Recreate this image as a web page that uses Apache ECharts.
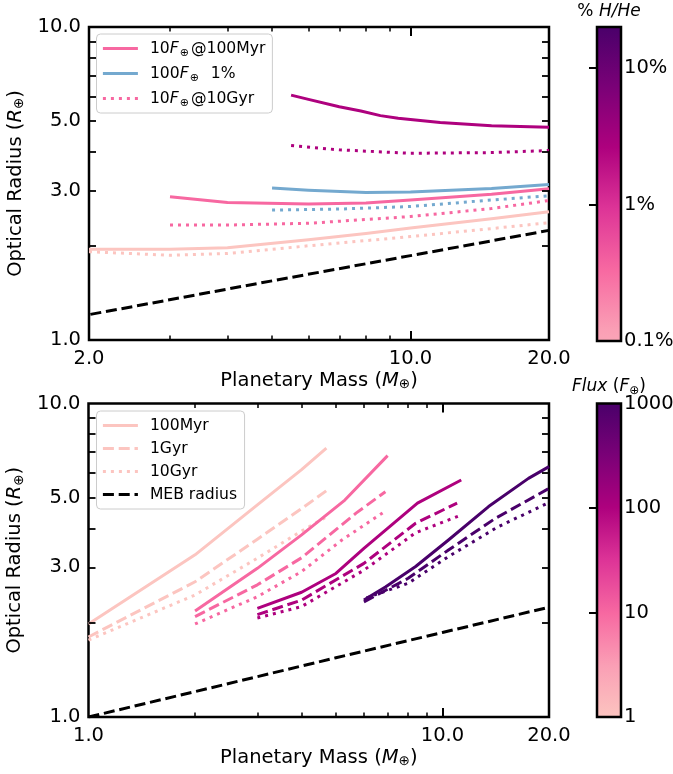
<!DOCTYPE html>
<html>
<head>
<meta charset="utf-8">
<script src="https://cdn.jsdelivr.net/npm/echarts@6/dist/echarts.min.js"></script>
<style>
  html, body { margin: 0; padding: 0; background: #fff; }
  #chart { width: 673px; height: 774px; }
</style>
</head>
<body>
<div id="chart"></div>
<script>
// ---------- upper panel: radius vs mass, by H/He fraction (mass in M_earth, radius in R_earth) ----------
const hhe01At100Myr = [[2, 1.95], [3, 1.95], [4, 1.97], [6, 2.09], [8, 2.19], [10, 2.28], [15, 2.44], [20, 2.57]];
const hhe01At10Gyr  = [[2, 1.915], [3, 1.865], [4, 1.89], [6, 2.0], [10, 2.14], [15, 2.27], [20, 2.37]];
const hhe1At100Myr  = [[3, 2.87], [4, 2.75], [6, 2.72], [8, 2.74], [10, 2.80], [15, 2.92], [20, 3.04]];
const hhe1At10Gyr   = [[3, 2.33], [4, 2.33], [6, 2.36], [10, 2.48], [15, 2.63], [20, 2.79]];
const flux100At100Myr = [[5, 3.06], [6, 3.01], [8, 2.96], [10, 2.97], [15, 3.05], [20, 3.14]];
const flux100At10Gyr  = [[5, 2.60], [7, 2.62], [10, 2.67], [15, 2.80], [20, 2.89]];
const hhe10At100Myr = [[5.5, 6.06], [6, 5.87], [7, 5.56], [7.8, 5.39], [8.6, 5.21], [9.4, 5.11], [10.5, 5.03],
                       [11.6, 4.95], [15, 4.84], [20, 4.78]];
const hhe10At10Gyr  = [[5.5, 4.18], [7, 4.05], [10, 3.95], [15, 3.97], [20, 4.03]];

// mass-radius relation of the bare core
const mebRadius = [[1, 1.0], [2, 1.205], [5, 1.545], [10, 1.86], [20, 2.24]];

// ---------- lower panel: radius vs mass, by incident flux ----------
const flux1At100Myr = [[1, 1.98], [2, 3.29], [3, 4.75], [4, 6.15], [4.7, 7.2]];
const flux1At1Gyr   = [[1, 1.80], [2, 2.70], [3, 3.69], [4, 4.62], [4.7, 5.27]];
const flux1At10Gyr  = [[1, 1.76], [2, 2.45], [3, 3.21], [4, 3.92], [4.7, 4.35]];

const flux10At100Myr = [[2, 2.18], [3, 2.98], [4, 3.81], [5.3, 4.92], [7, 6.82]];
const flux10At1Gyr   = [[2, 2.09], [3, 2.64], [4, 3.22], [5.7, 4.47], [6.9, 5.23]];
const flux10At10Gyr  = [[2, 1.98], [3, 2.42], [4, 2.91], [5.2, 3.67], [6.9, 4.54]];

const flux100At100MyrB = [[3, 2.22], [4, 2.50], [5, 2.87], [6, 3.45], [8.5, 4.81], [11.3, 5.70]];
const flux100At1Gyr    = [[3, 2.12], [4, 2.36], [6, 3.09], [8.4, 4.15], [11, 4.81]];
const flux100At10GyrB  = [[3, 2.07], [4, 2.25], [6, 2.94], [8.4, 3.87], [11.3, 4.41]];

const flux1000At100Myr = [[6, 2.36], [6.9, 2.60], [8.4, 3.02], [10.4, 3.67], [13.5, 4.69], [17.5, 5.77], [20, 6.29]];
const flux1000At1Gyr   = [[6, 2.33], [8, 2.77], [10.4, 3.41], [14.1, 4.30], [20, 5.36]];
const flux1000At10Gyr  = [[6.1, 2.40], [8, 2.67], [10.4, 3.25], [14.4, 4.05], [20, 4.83]];

// ---------- axes, ticks and colour bars ----------
const topMassRange = [2, 20];
const botMassRange = [1, 20];
const radiusRange = [1, 10];
const topMassLabels = [2, 10, 20];
const botMassLabels = [1, 10, 20];
const massMajorTicks = [10];
const topMassMinorTicks = [3, 4, 5, 6, 7, 8, 9];
const botMassMinorTicks = [2, 3, 4, 5, 6, 7, 8, 9];
const radiusTicks = [2, 3, 4, 5, 6, 7, 8, 9];
const radiusLabels = [1, 3, 5, 10];

const hheRange = [0.1, 20];       // % H/He
const hheTicks = [1, 10];
const hheLabels = [0.1, 1, 10];
const fluxRange = [1, 1000];      // F_earth
const fluxTicks = [10, 100];
const fluxLabels = [1, 10, 100, 1000];

const topLegendNames = ['10F⊕@100Myr', '100F⊕ 1%', '10F⊕@10Gyr'];
const topLegendText  = ['{a|10}{i|F}{s|⊕}@100Myr', '{a|100}{i|F}{s|⊕}  1%', '{a|10}{i|F}{s|⊕}@10Gyr'];
const botLegendNames = ['100Myr', '1Gyr', '10Gyr', 'MEB radius'];

// ---------- styling ----------
const FONT = 'DejaVu Sans';
const COL = {
  light: '#fcc5c0', pink: '#f768a1', magenta: '#ae017e', purple: '#49006a',
  blue: '#74a9cf', black: '#000000'
};
const DASHED = [11, 4.8];
const DOTTED = [3, 5];
// RdPu colour ramps for the two colour bars (bottom -> top)
const RAMP_HHE = [
  { offset: 0, color: '#faa5b7' }, { offset: 0.0385, color: '#fa9fb5' }, { offset: 0.2308, color: '#f768a1' },
  { offset: 0.4231, color: '#dd3497' }, { offset: 0.6154, color: '#ae017e' }, { offset: 0.8077, color: '#7a0177' },
  { offset: 1, color: '#49006a' }
];
const RAMP_FLUX = ['#fcc5c0', '#fa9fb5', '#f768a1', '#dd3497', '#ae017e', '#7a0177', '#49006a']
  .map((c, k, a) => ({ offset: k / (a.length - 1), color: c }));

const richSub = {
  i: { fontStyle: 'italic', fontFamily: FONT, fontSize: 19.5, color: '#000' },
  s: { fontFamily: FONT, fontSize: 13.5, lineHeight: 14, verticalAlign: 'bottom', color: '#000' }
};

const GRID_TOP = { left: 89, top: 27, width: 460, height: 313 };
const GRID_BOT = { left: 88.5, top: 403.5, width: 460.5, height: 313.5 };

function gridOf(g) {
  return Object.assign({ show: true, borderColor: '#000', borderWidth: 2.5, backgroundColor: 'transparent',
    containLabel: false, outerBoundsMode: 'none' }, g);
}

const tickLabel = { fontFamily: FONT, fontSize: 19.5, color: '#000' };

function massAxes(gridIndex, range, labels, minor) {
  const base = { type: 'log', logBase: 10, gridIndex, min: range[0], max: range[1],
    axisLine: { show: false }, splitLine: { show: false }, minorTick: { show: false }, z: 5 };
  return [
    Object.assign({}, base, {
      position: 'bottom',
      axisTick: { show: true, inside: true, length: 9, customValues: massMajorTicks, lineStyle: { color: '#000', width: 2 } },
      axisLabel: Object.assign({ show: true, margin: 9, customValues: labels, formatter: v => Number(v).toFixed(1) }, tickLabel),
      name: 'Planetary Mass ({i|M}{s|⊕})', nameLocation: 'middle', nameGap: 29,
      nameTextStyle: { fontFamily: FONT, fontSize: 19.5, color: '#000', lineHeight: 22, rich: richSub }
    }),
    Object.assign({}, base, {
      position: 'bottom',
      axisTick: { show: true, inside: true, length: 4.5, customValues: minor, lineStyle: { color: '#000', width: 1.5 } },
      axisLabel: { show: false }
    }),
    Object.assign({}, base, {
      position: 'top',
      axisTick: { show: true, inside: true, length: 9, customValues: massMajorTicks, lineStyle: { color: '#000', width: 2 } },
      axisLabel: { show: false }
    }),
    Object.assign({}, base, {
      position: 'top',
      axisTick: { show: true, inside: true, length: 4.5, customValues: minor, lineStyle: { color: '#000', width: 1.5 } },
      axisLabel: { show: false }
    })
  ];
}

function radiusAxes(gridIndex) {
  const base = { type: 'log', logBase: 10, gridIndex, min: radiusRange[0], max: radiusRange[1],
    axisLine: { show: false }, splitLine: { show: false }, minorTick: { show: false }, z: 5,
    axisTick: { show: true, inside: true, length: 7, customValues: radiusTicks, lineStyle: { color: '#000', width: 1.8 } } };
  return [
    Object.assign({}, base, {
      position: 'left',
      axisLabel: Object.assign({ show: true, margin: 8, customValues: radiusLabels, formatter: v => Number(v).toFixed(1) }, tickLabel),
      name: 'Optical Radius ({i|R}{s|⊕})', nameLocation: 'middle', nameGap: 60,
      nameTextStyle: { fontFamily: FONT, fontSize: 19.5, color: '#000', lineHeight: 22, rich: richSub }
    }),
    Object.assign({}, base, { position: 'right', axisLabel: { show: false } })
  ];
}

function colorbarAxes(gridIndex, range, ticks, labels, fmt) {
  return {
    x: { type: 'value', gridIndex, min: 0, max: 1, show: false },
    y: { type: 'log', logBase: 10, gridIndex, min: range[0], max: range[1], position: 'right', z: 10,
      axisLine: { show: false }, splitLine: { show: false }, minorTick: { show: false },
      axisTick: { show: true, inside: true, length: 8, customValues: ticks, lineStyle: { color: '#000', width: 2 } },
      axisLabel: Object.assign({ show: true, margin: 3, customValues: labels, formatter: fmt }, tickLabel) }
  };
}

function line(name, data, color, dash, xi, yi) {
  return {
    type: 'line', name, data, xAxisIndex: xi, yAxisIndex: yi,
    symbol: 'none', showSymbol: false, silent: true, clip: true, animation: false,
    lineStyle: { color, width: 3, type: dash || 'solid', cap: 'butt', join: 'round' },
    itemStyle: { color }, emphasis: { disabled: true }
  };
}

function colorbarSeries(xi, yi, range, ramp) {
  return {
    type: 'custom', xAxisIndex: xi, yAxisIndex: yi, silent: true, animation: false, clip: false, z: 3,
    data: [[0, range[0], 1, range[1]]],
    encode: { x: 0, y: 1 },
    renderItem: (params, api) => {
      const p0 = api.coord([api.value(0), api.value(1)]);
      const p1 = api.coord([api.value(2), api.value(3)]);
      return {
        type: 'rect',
        shape: { x: p0[0], y: p1[1], width: p1[0] - p0[0], height: p0[1] - p1[1] },
        style: { fill: new echarts.graphic.LinearGradient(0, 1, 0, 0, ramp), stroke: '#000', lineWidth: 2.5 }
      };
    }
  };
}

const topMass = massAxes(0, topMassRange, topMassLabels, topMassMinorTicks);
const botMass = massAxes(1, botMassRange, botMassLabels, botMassMinorTicks);
const cbTop = colorbarAxes(2, hheRange, hheTicks, hheLabels, v => (v < 1 ? Number(v).toFixed(1) : Number(v).toFixed(0)) + '%');
const cbBot = colorbarAxes(3, fluxRange, fluxTicks, fluxLabels, v => Number(v).toFixed(0));

// x axes: 0-3 upper panel, 4-7 lower panel, 8-9 colour bars
// y axes: 0-1 upper panel, 2-3 lower panel, 4-5 colour bars
const legendText = {
  fontFamily: FONT, fontSize: 15.6, color: '#000', lineHeight: 20,
  rich: {
    a: { fontFamily: FONT, fontSize: 15.6, color: '#000', padding: [0, 0, 0, 7] },
    i: { fontStyle: 'italic', fontFamily: FONT, fontSize: 15.6, color: '#000' },
    s: { fontFamily: FONT, fontSize: 11, lineHeight: 13, verticalAlign: 'bottom', color: '#000', padding: [0, 2, 0, 1] }
  }
};
const legendBox = {
  orient: 'vertical', itemWidth: 35, itemHeight: 14, selectedMode: false,
  borderColor: '#cccccc', borderWidth: 1, borderRadius: 4, backgroundColor: 'rgba(255,255,255,0.8)',
  itemStyle: { opacity: 0 }, lineStyle: { width: 2.8 }, textStyle: legendText, z: 20
};

const option = {
  animation: false,
  backgroundColor: '#fff',
  grid: [
    gridOf(GRID_TOP),
    gridOf(GRID_BOT),
    { left: 597, top: 27, width: 24, height: 314, show: false, containLabel: false, outerBoundsMode: 'none' },
    { left: 597, top: 403.5, width: 24, height: 313.5, show: false, containLabel: false, outerBoundsMode: 'none' }
  ],
  xAxis: [...topMass, ...botMass, cbTop.x, cbBot.x],
  yAxis: [...radiusAxes(0), ...radiusAxes(1), cbTop.y, cbBot.y],
  legend: [
    Object.assign({}, legendBox, {
      left: 96.5, top: 34, itemGap: 5, padding: [4.5, 7, 4.5, 5],
      data: topLegendNames,
      formatter: name => topLegendText[topLegendNames.indexOf(name)]
    }),
    Object.assign({}, legendBox, {
      left: 96.5, top: 411, itemGap: 3, padding: [4.5, 7.5, 4.5, 5],
      data: botLegendNames,
      formatter: name => '{a|' + name + '}'
    })
  ],
  graphic: [
    { type: 'text', x: 609, y: 12, z: 20, silent: true,
      style: { text: '% {i|H/He}', fontFamily: FONT, fontSize: 17, fill: '#000',
        align: 'center', verticalAlign: 'middle', textAlign: 'center', textVerticalAlign: 'middle',
        rich: { i: { fontStyle: 'italic', fontFamily: FONT, fontSize: 17, fill: '#000', color: '#000' } } } },
    { type: 'text', x: 609, y: 387, z: 20, silent: true,
      style: { text: '{i|Flux} ({i|F}{s|⊕})', fontFamily: FONT, fontSize: 17, fill: '#000', lineHeight: 20,
        align: 'center', verticalAlign: 'middle', textAlign: 'center', textVerticalAlign: 'middle',
        rich: { i: { fontStyle: 'italic', fontFamily: FONT, fontSize: 17, fill: '#000', color: '#000' },
                s: { fontFamily: FONT, fontSize: 12, lineHeight: 13, verticalAlign: 'bottom', fill: '#000', color: '#000' } } } }
  ],
  series: [
    // upper panel
    line(null, mebRadius, COL.black, DASHED, 0, 0),
    line(null, hhe01At100Myr, COL.light, 'solid', 0, 0),
    line(null, hhe01At10Gyr, COL.light, DOTTED, 0, 0),
    line('10F⊕@10Gyr', hhe1At10Gyr, COL.pink, DOTTED, 0, 0),
    line(null, flux100At10Gyr, COL.blue, DOTTED, 0, 0),
    line('10F⊕@100Myr', hhe1At100Myr, COL.pink, 'solid', 0, 0),
    line('100F⊕ 1%', flux100At100Myr, COL.blue, 'solid', 0, 0),
    line(null, hhe10At10Gyr, COL.magenta, DOTTED, 0, 0),
    line(null, hhe10At100Myr, COL.magenta, 'solid', 0, 0),
    // lower panel
    line('100Myr', flux1At100Myr, COL.light, 'solid', 4, 2),
    line('1Gyr', flux1At1Gyr, COL.light, DASHED, 4, 2),
    line('10Gyr', flux1At10Gyr, COL.light, DOTTED, 4, 2),
    line(null, flux10At100Myr, COL.pink, 'solid', 4, 2),
    line(null, flux10At1Gyr, COL.pink, DASHED, 4, 2),
    line(null, flux10At10Gyr, COL.pink, DOTTED, 4, 2),
    line(null, flux100At100MyrB, COL.magenta, 'solid', 4, 2),
    line(null, flux100At1Gyr, COL.magenta, DASHED, 4, 2),
    line(null, flux100At10GyrB, COL.magenta, DOTTED, 4, 2),
    line(null, flux1000At100Myr, COL.purple, 'solid', 4, 2),
    line(null, flux1000At1Gyr, COL.purple, DASHED, 4, 2),
    line(null, flux1000At10Gyr, COL.purple, DOTTED, 4, 2),
    line('MEB radius', mebRadius, COL.black, DASHED, 4, 2),
    // colour bars
    colorbarSeries(8, 4, hheRange, RAMP_HHE),
    colorbarSeries(9, 5, fluxRange, RAMP_FLUX)
  ]
};

const chart = echarts.init(document.getElementById('chart'), null, { renderer: 'canvas' });
chart.setOption(option);
</script>
</body>
</html>
